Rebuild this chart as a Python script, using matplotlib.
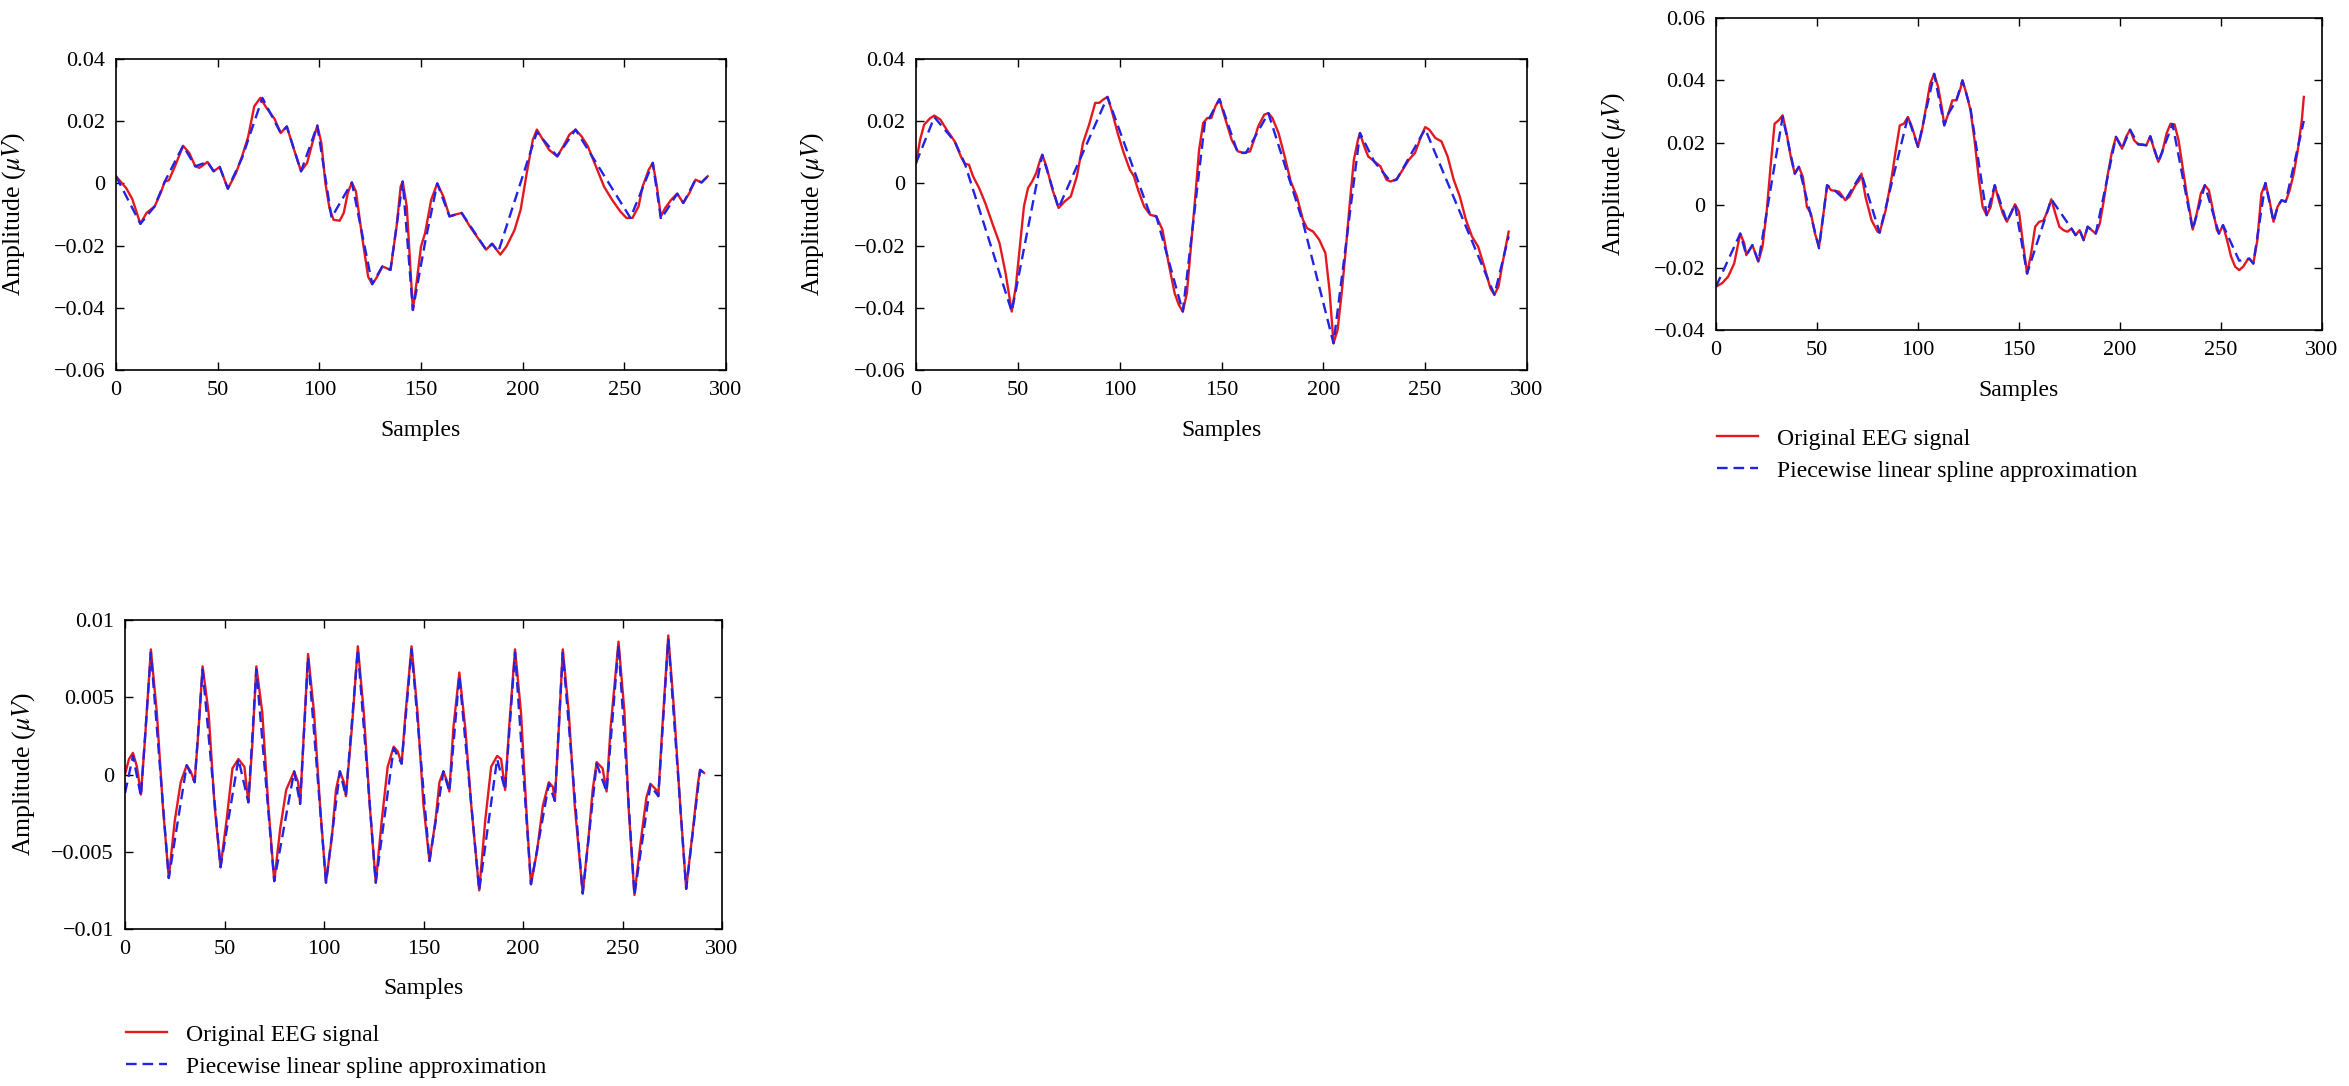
import numpy as np
import matplotlib
matplotlib.use('Agg')
import matplotlib.pyplot as plt
from matplotlib.ticker import FuncFormatter

plt.rcParams['font.family'] = ['Liberation Serif', 'DejaVu Serif']
plt.rcParams['mathtext.fontset'] = 'stix'

# ---- panel 1 ----
x1_orig = [0, 3, 5, 8, 12, 15, 19, 22, 24, 26, 29, 33, 36, 39, 41, 45, 48, 51, 55, 59, 62, 65, 68, 71, 74,
           78, 81, 84, 87, 91, 94, 97, 99, 101, 103, 105, 107, 110, 112, 114, 116, 118, 121, 124, 126, 128,
           131, 135, 138, 140, 141, 143, 146, 148, 150, 152, 155, 158, 161, 164, 167, 170, 174, 178, 182,
           185, 189, 192, 196, 199, 202, 205, 207, 210, 213, 217, 220, 223, 226, 229, 232, 236, 240, 244,
           248, 251, 254, 257, 259, 262, 264, 266, 268, 270, 273, 276, 279, 282, 285, 288, 291]
y1_orig = [0.0023, 0.0, -0.0015, -0.005, -0.013, -0.0095, -0.0074, -0.003, 0.0006, 0.001, 0.0055, 0.0121,
           0.0098, 0.0055, 0.005, 0.0069, 0.0039, 0.0053, -0.0017, 0.0033, 0.0087, 0.015, 0.0248, 0.0275,
           0.0243, 0.0207, 0.0162, 0.0183, 0.012, 0.0039, 0.0066, 0.014, 0.0186, 0.013, 0.0, -0.008, -0.0117,
           -0.012, -0.0095, -0.0031, 0.0003, -0.0026, -0.017, -0.030, -0.0324, -0.0305, -0.0267, -0.0278,
           -0.0138, -0.001, 0.0006, -0.0074, -0.0407, -0.031, -0.0203, -0.016, -0.0053, 0.0, -0.0042,
           -0.0106, -0.010, -0.0095, -0.0138, -0.0176, -0.0213, -0.0194, -0.0229, -0.0203, -0.015, -0.0085,
           0.0033, 0.014, 0.0173, 0.014, 0.0108, 0.0087, 0.012, 0.0157, 0.0173, 0.0151, 0.012, 0.0055,
           -0.001, -0.0053, -0.009, -0.0111, -0.0111, -0.0074, -0.001, 0.0044, 0.0066, -0.001, -0.0106,
           -0.008, -0.0053, -0.0033, -0.0063, -0.0031, 0.0012, 0.0003, 0.0023]
x1_spl = [0, 12, 19, 24, 33, 39, 45, 48, 51, 55, 62, 72, 81, 84, 91, 99, 106, 116, 126, 131, 135, 141, 146,
          152, 158, 164, 170, 182, 185, 188, 207, 217, 226, 253, 264, 268, 276, 279, 285, 288, 291]
y1_spl = [0.0023, -0.013, -0.0074, 0.0006, 0.0121, 0.0055, 0.0069, 0.0039, 0.0053, -0.0017, 0.0082, 0.0275,
          0.0162, 0.0183, 0.0039, 0.0186, -0.011, 0.0003, -0.0324, -0.0267, -0.0278, 0.0006, -0.0407,
          -0.019, 0.0, -0.0106, -0.0095, -0.0213, -0.0194, -0.022, 0.0165, 0.0087, 0.0173, -0.0111, 0.0066,
          -0.0115, -0.0033, -0.0063, 0.0012, 0.0003, 0.0023]

# ---- panel 2 ----
x2_orig = [0, 2, 4, 7, 9, 12, 15, 19, 22, 24, 26, 28, 31, 34, 38, 41, 44, 47, 49, 51, 53, 55, 57, 59, 61, 62,
           64, 67, 70, 73, 76, 79, 82, 85, 88, 90, 92, 94, 96, 99, 102, 105, 107, 109, 112, 115, 118, 121,
           124, 127, 129, 131, 133, 135, 137, 139, 141, 143, 145, 147, 149, 151, 153, 155, 158, 161, 164,
           166, 168, 171, 173, 175, 178, 181, 184, 187, 190, 192, 195, 198, 201, 203, 205, 207, 209, 211,
           213, 215, 217, 218, 220, 222, 225, 228, 231, 233, 236, 239, 242, 245, 248, 250, 252, 255, 258,
           261, 264, 267, 270, 273, 276, 279, 282, 284, 286, 288, 291]
y2_orig = [0.0065, 0.014, 0.0189, 0.021, 0.0218, 0.0205, 0.0173, 0.0135, 0.0087, 0.0063, 0.006, 0.0023,
           -0.0015, -0.0063, -0.0138, -0.0192, -0.0289, -0.0412, -0.0332, -0.0203, -0.0074, -0.0015, 0.0006,
           0.0033, 0.0076, 0.0092, 0.0055, -0.002, -0.0079, -0.0058, -0.0042, 0.0023, 0.013, 0.0189, 0.0259,
           0.0259, 0.027, 0.0278, 0.0237, 0.0162, 0.0098, 0.0044, 0.0023, -0.002, -0.0074, -0.0101, -0.0106,
           -0.0149, -0.0256, -0.0353, -0.039, -0.0412, -0.0353, -0.0203, -0.0053, 0.0108, 0.0194, 0.021,
           0.021, 0.0248, 0.0271, 0.0226, 0.0183, 0.014, 0.0103, 0.0098, 0.0103, 0.014, 0.0183, 0.0221,
           0.0226, 0.021, 0.0162, 0.0087, 0.0006, -0.0042, -0.0117, -0.0144, -0.0155, -0.0181, -0.0224,
           -0.0342, -0.0514, -0.0471, -0.0353, -0.0214, -0.0063, 0.0076, 0.014, 0.0162, 0.012, 0.0087,
           0.0071, 0.0055, 0.0012, 0.0006, 0.0014, 0.0044, 0.0076, 0.0098, 0.0151, 0.0181, 0.0173, 0.0146,
           0.0135, 0.0087, 0.0012, -0.0042, -0.0117, -0.0171, -0.0203, -0.0267, -0.0337, -0.0358, -0.0332,
           -0.0256, -0.0155]
x2_spl = [0, 9, 19, 24, 47, 62, 70, 94, 115, 118, 131, 142, 144, 149, 158, 162, 173, 190, 205, 218, 225,
          233, 236, 250, 284, 291]
y2_spl = [0.0065, 0.0213, 0.0135, 0.0063, -0.0412, 0.0092, -0.0079, 0.0278, -0.0101, -0.0106, -0.0412,
          0.0205, 0.021, 0.0271, 0.0098, 0.0098, 0.0226, -0.0125, -0.0514, 0.0162, 0.007, 0.0006, 0.0012,
          0.0175, -0.0358, -0.017]

# ---- panel 3 ----
x3_orig = [0, 3, 6, 9, 11, 12, 14, 15, 18, 21, 23, 25, 27, 29, 31, 33, 35, 37, 39, 41, 43, 45, 47, 49, 51,
           53, 55, 57, 59, 61, 64, 66, 69, 71, 72, 74, 77, 80, 81, 84, 87, 89, 91, 93, 95, 97, 99, 100, 102,
           104, 106, 108, 110, 112, 113, 115, 117, 119, 121, 122, 124, 126, 128, 130, 132, 134, 136, 138,
           140, 142, 144, 146, 148, 150, 152, 154, 156, 158, 160, 162, 164, 166, 168, 170, 172, 174, 176,
           178, 180, 182, 184, 186, 188, 190, 192, 194, 196, 198, 200, 201, 203, 205, 207, 209, 211, 213,
           215, 217, 219, 221, 223, 225, 227, 229, 231, 233, 235, 236, 238, 240, 242, 244, 246, 248, 249,
           251, 253, 255, 257, 259, 261, 263, 264, 266, 268, 270, 272, 274, 276, 278, 280, 282, 284, 286,
           288, 290, 291]
y3_orig = [-0.0261, -0.025, -0.0229, -0.0187, -0.0123, -0.0091, -0.0123, -0.016, -0.0128, -0.0181, -0.0133,
           -0.0027, 0.0123, 0.0261, 0.0272, 0.0288, 0.0229, 0.0155, 0.0101, 0.0123, 0.0091, -0.0005,
           -0.0027, -0.0091, -0.0133, -0.0037, 0.0064, 0.0048, 0.0046, 0.0043, 0.0016, 0.0027, 0.0064,
           0.008, 0.0101, 0.0027, -0.0048, -0.0085, -0.0088, -0.0016, 0.0091, 0.0176, 0.0256, 0.0261,
           0.0283, 0.0251, 0.0208, 0.0187, 0.024, 0.0315, 0.0389, 0.0421, 0.0378, 0.0304, 0.0256, 0.0293,
           0.0336, 0.0336, 0.0373, 0.040, 0.0357, 0.0304, 0.0208, 0.0091, -0.0005, -0.0032, -0.0005, 0.0064,
           0.0016, -0.0027, -0.0053, -0.0027, 0.0003, -0.0021, -0.0123, -0.0219, -0.0155, -0.0069, -0.0053,
           -0.005, -0.0021, 0.0019, -0.0027, -0.0069, -0.008, -0.0085, -0.0075, -0.0096, -0.008, -0.0112,
           -0.0069, -0.008, -0.0091, -0.0059, 0.0016, 0.0101, 0.0171, 0.0219, 0.0197, 0.0181, 0.0219,
           0.0242, 0.0208, 0.0195, 0.0195, 0.0192, 0.0221, 0.0176, 0.0139, 0.0171, 0.0229, 0.0261, 0.0259,
           0.0208, 0.0123, 0.0037, -0.0037, -0.0078, -0.0027, 0.0037, 0.0064, 0.0048, -0.0016, -0.008,
           -0.0091, -0.0064, -0.0112, -0.0165, -0.0197, -0.0208, -0.0197, -0.0176, -0.0171, -0.0187,
           -0.0112, 0.0037, 0.0071, 0.0016, -0.0053, -0.0005, 0.0016, 0.0011, 0.0048, 0.0101, 0.0176,
           0.0272, 0.0347]
x3_spl = [0, 12, 15, 18, 21, 33, 39, 41, 51, 55, 59, 64, 72, 81, 95, 100, 108, 113, 115, 119, 122, 126, 134,
          138, 144, 148, 154, 166, 176, 178, 180, 182, 184, 188, 198, 201, 205, 209, 213, 215, 219, 226,
          236, 242, 249, 251, 259, 264, 266, 272, 276, 278, 280, 282, 291]
y3_spl = [-0.0261, -0.0091, -0.016, -0.0128, -0.0181, 0.0283, 0.0101, 0.0123, -0.0138, 0.0064, 0.0046,
          0.0016, 0.0101, -0.0088, 0.0283, 0.0187, 0.0421, 0.0256, 0.0293, 0.0336, 0.040, 0.031, -0.0032,
          0.0064, -0.0053, 0.0003, -0.0219, 0.0019, -0.0075, -0.0096, -0.008, -0.0112, -0.0069, -0.0091,
          0.0219, 0.0181, 0.0242, 0.0195, 0.0192, 0.0221, 0.0139, 0.026, -0.0078, 0.0064, -0.0091, -0.0064,
          -0.0178, -0.0171, -0.0187, 0.0071, -0.0053, -0.0005, 0.0016, 0.0011, 0.027]

# ---- panel 4 ----
x4_orig = [0, 2, 4, 6, 8, 10, 13, 16, 19, 22, 25, 28, 31, 33, 35, 37, 39, 42, 45, 48, 51, 54, 57, 60, 62,
           64, 66, 69, 72, 75, 78, 81, 85, 87, 88, 90, 92, 95, 98, 101, 104, 106, 108, 110, 111, 114, 117,
           120, 123, 126, 129, 132, 135, 137, 139, 141, 144, 147, 150, 153, 156, 158, 160, 162, 163, 165,
           168, 171, 174, 178, 181, 184, 187, 189, 191, 193, 196, 199, 202, 204, 207, 210, 213, 215, 216,
           218, 220, 223, 226, 230, 233, 235, 237, 240, 242, 244, 248, 251, 253, 256, 259, 262, 264, 267,
           268, 270, 273, 276, 279, 282, 285, 288, 289, 291]
y4_orig = [0.0, 0.001, 0.0014, 0.0005, -0.0013, 0.0022, 0.0081, 0.004, -0.002, -0.0067, -0.003, -0.0005,
           0.0006, 0.0002, -0.0005, 0.003, 0.007, 0.004, -0.002, -0.006, -0.003, 0.0004, 0.001, 0.0005,
           -0.0018, 0.002, 0.007, 0.004, -0.002, -0.0069, -0.0035, -0.001, 0.0002, -0.0005, -0.0019, 0.003,
           0.0078, 0.004, -0.002, -0.007, -0.004, -0.001, 0.0002, -0.0005, -0.0014, 0.003, 0.0083, 0.004,
           -0.002, -0.007, -0.003, 0.0005, 0.0018, 0.0015, 0.0007, 0.004, 0.0083, 0.004, -0.002, -0.0056,
           -0.003, -0.0005, 0.0002, -0.0005, -0.0011, 0.003, 0.0066, 0.003, -0.002, -0.0075, -0.003, 0.0005,
           0.0012, 0.001, -0.001, 0.003, 0.0081, 0.004, -0.003, -0.0071, -0.005, -0.002, -0.0005, -0.0008,
           -0.0017, 0.003, 0.0081, 0.004, -0.002, -0.0077, -0.004, -0.001, 0.0008, 0.0004, -0.0011, 0.003,
           0.0086, 0.004, -0.002, -0.0078, -0.0045, -0.0015, -0.0006, -0.001, -0.0014, 0.003, 0.009, 0.004,
           -0.002, -0.0074, -0.004, -0.0005, 0.0003, 0.0001]
x4_spl = [0, 4, 8, 13, 22, 31, 35, 39, 48, 57, 62, 66, 75, 85, 88, 92, 101, 108, 111, 117, 126, 135, 139,
          144, 153, 160, 163, 168, 178, 187, 191, 196, 204, 213, 216, 220, 230, 237, 242, 248, 256, 264, 268,
          273, 282, 289, 291]
y4_spl = [-0.0012, 0.0012, -0.0014, 0.0079, -0.0067, 0.0006, -0.0005, 0.0068, -0.006, 0.001, -0.0018,
          0.0068, -0.0069, 0.0002, -0.0019, 0.0076, -0.007, 0.0002, -0.0014, 0.0081, -0.007, 0.0017, 0.0007,
          0.0081, -0.0056, 0.0002, -0.0011, 0.0064, -0.0075, 0.001, -0.001, 0.0079, -0.0071, -0.0006,
          -0.0017, 0.0079, -0.0077, 0.0007, -0.0011, 0.0084, -0.0078, -0.0007, -0.0014, 0.0088, -0.0074,
          0.0003, 0.0001]

ylims = [(-0.06, 0.04), (-0.06, 0.04), (-0.04, 0.06), (-0.01, 0.01)]
yticks = [[-0.06, -0.04, -0.02, 0, 0.02, 0.04],
          [-0.06, -0.04, -0.02, 0, 0.02, 0.04],
          [-0.04, -0.02, 0, 0.02, 0.04, 0.06],
          [-0.01, -0.005, 0, 0.005, 0.01]]

W, H = 2349, 1086
fig = plt.figure(figsize=(W / 100, H / 100), dpi=100)

# axes boxes in pixels: left, top, right, bottom
boxes = [(116, 59, 726, 370), (916, 59, 1527, 370), (1716, 18, 2322, 330), (125, 620, 722, 929)]
panels = [(x1_orig, y1_orig, x1_spl, y1_spl), (x2_orig, y2_orig, x2_spl, y2_spl),
          (x3_orig, y3_orig, x3_spl, y3_spl), (x4_orig, y4_orig, x4_spl, y4_spl)]

fmt = FuncFormatter(lambda v, p: f'{v:g}'.replace('-', '\u2212'))
red = '#e3191f'
blue = '#2323e6'

axes = []
for i, (l, t, r, b) in enumerate(boxes):
    ax = fig.add_axes([l / W, 1 - b / H, (r - l) / W, (b - t) / H])
    xo, yo, xs, ys = panels[i]
    ax.plot(xo, yo, color=red, lw=1.7, label='Original EEG signal')
    ax.plot(xs, ys, color=blue, lw=1.7, linestyle=(0, (4.5, 2.5)),
            label='Piecewise linear spline approximation')
    ax.set_xlim(0, 300)
    ax.set_ylim(*ylims[i])
    ax.set_xticks([0, 50, 100, 150, 200, 250, 300])
    ax.set_yticks(yticks[i])
    ax.yaxis.set_major_formatter(fmt)
    ax.tick_params(direction='in', top=True, right=True, length=6, width=1,
                   labelsize=16, pad=8)
    for s in ax.spines.values():
        s.set_linewidth(1.2)
    ax.set_xlabel('Samples', fontsize=17)
    ax.set_ylabel(r'Amplitude ($\mu V$)', fontsize=18.5)
    ax.xaxis.set_label_coords(0.5, -0.16)
    ax.yaxis.set_label_coords(-0.145, 0.5)
    axes.append(ax)

# legends under panel 3 and panel 4
for ax, (lx, ty) in [(axes[2], (1717, 428)), (axes[3], (126, 1024))]:
    ax.legend(loc='upper left', bbox_to_anchor=(lx / W, 1 - ty / H), bbox_transform=fig.transFigure,
              frameon=False, fontsize=17, handlelength=1.75, handletextpad=0.8,
              borderpad=0, borderaxespad=0, labelspacing=0.45)

fig.savefig('out.png', dpi=100)
